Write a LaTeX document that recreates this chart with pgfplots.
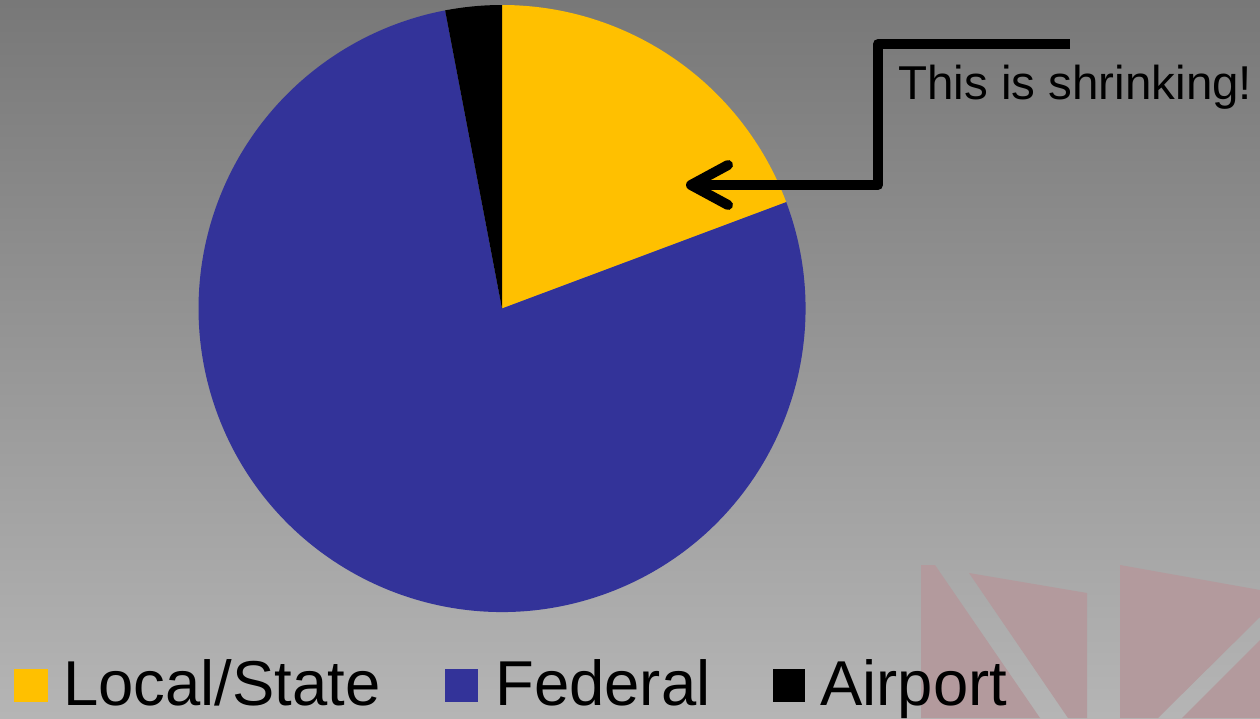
\documentclass[border=0pt]{standalone}
\usepackage{pgfplots}
\pgfplotsset{compat=1.18}
\usepackage{fontspec}
\setmainfont{Liberation Sans}

\definecolor{localc}{HTML}{FFC000}
\definecolor{fedc}{HTML}{333399}
\definecolor{airc}{HTML}{000000}
\definecolor{pinkc}{HTML}{B39A9D}

% shares in percent
\def\vLocal{19.3}
\def\vFederal{77.7}
\def\vAirport{3.0}
\def\R{151.75pt}

\begin{document}
\begin{tikzpicture}
\pgfmathsetmacro\aA{90}
\pgfmathsetmacro\aB{90-3.6*\vLocal}
\pgfmathsetmacro\aC{\aB-3.6*\vFederal}
\pgfmathsetmacro\aD{\aC-3.6*\vAirport}
\begin{axis}[
scale only axis,
width=630pt, height=359pt,
xmin=0, xmax=1260, ymin=0, ymax=718,
hide axis,
clip=false]
% background
\shade[top color=black!53, bottom color=black!29] (axis cs:0,0) rectangle (axis cs:1260,718);
\fill[pinkc] (axis cs:921,153) -- (axis cs:935,153) -- (axis cs:1040,0) -- (axis cs:921,0) -- cycle;
\fill[pinkc] (axis cs:969,145) -- (axis cs:1087,125) -- (axis cs:1087,0) -- (axis cs:1068,0) -- cycle;
\fill[pinkc] (axis cs:1120,153) -- (axis cs:1260,128) -- (axis cs:1260,101) -- (axis cs:1158,0) -- (axis cs:1120,0) -- cycle;
\fill[pinkc] (axis cs:1260,78) -- (axis cs:1182,0) -- (axis cs:1260,0) -- cycle;
% pie
\fill[localc] (axis cs:502,409.5) -- ++(\aA:\R) arc[start angle=\aA, end angle=\aB, radius=\R] -- cycle;
\fill[fedc] (axis cs:502,409.5) -- ++(\aB:\R) arc[start angle=\aB, end angle=\aC, radius=\R] -- cycle;
\fill[airc] (axis cs:502,409.5) -- ++(\aC:\R) arc[start angle=\aC, end angle=\aD, radius=\R] -- cycle;
% annotation
\draw[line width=5pt, line join=round] (axis cs:1070,674) -- (axis cs:878,674) -- (axis cs:878,533) -- (axis cs:692,533);
\draw[line width=5pt, line join=round, line cap=round] (axis cs:728,553) -- (axis cs:691,533) -- (axis cs:728,513);
\node[anchor=base west, inner sep=0, font=\fontsize{23.75}{28}\selectfont] at (axis cs:898,618) {This is shrinking!};
% legend
\fill[localc] (axis cs:14,16) rectangle (axis cs:48,49);
\node[anchor=base west, inner sep=0, font=\fontsize{31.7}{38}\selectfont] at (axis cs:63,13) {Local/State};
\fill[fedc] (axis cs:445,16) rectangle (axis cs:478,49);
\node[anchor=base west, inner sep=0, font=\fontsize{31.7}{38}\selectfont] at (axis cs:495,13) {Federal};
\fill[airc] (axis cs:773,16) rectangle (axis cs:805,49);
\node[anchor=base west, inner sep=0, font=\fontsize{31.7}{38}\selectfont] at (axis cs:820,13) {Airport};
\end{axis}
\end{tikzpicture}
\end{document}
